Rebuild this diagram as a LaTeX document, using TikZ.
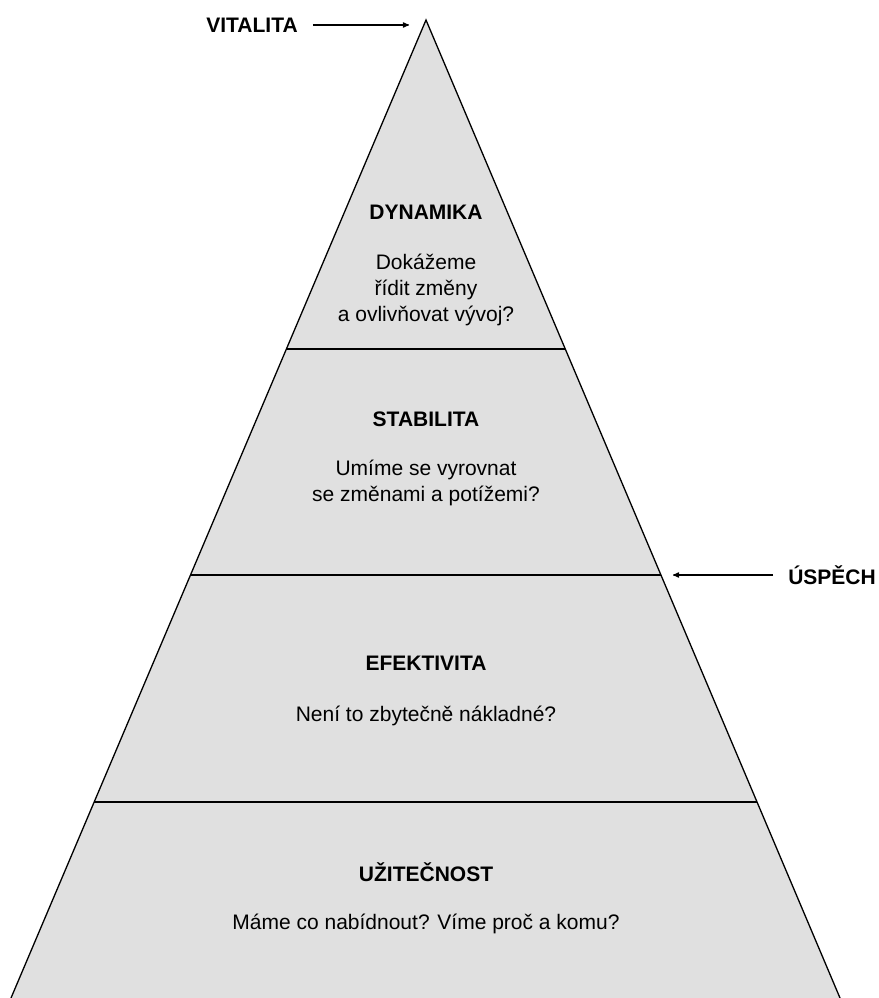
\documentclass[tikz,border=0pt]{standalone}
\usepackage{fontspec}
\setmainfont{Liberation Sans}
\usepackage{tikz}
\usetikzlibrary{arrows,shapes,calc}
\tikzstyle{layer}=[fill=black!12,draw=none]
\tikzstyle{title}=[font=\fontsize{21}{26}\selectfont\bfseries]
\tikzstyle{question}=[font=\fontsize{21}{26}\selectfont,align=center]
\tikzstyle{edge} = [draw,line width=1.2pt,->,>=stealth',shorten <=15pt]
\tikzstyle{border} = [draw,line width=1.3pt]

\begin{document}
\begin{tikzpicture}[x=1pt, y=-1pt]

    \useasboundingbox (0,0) rectangle (878,998);

    \coordinate (apex) at (426,20);
    \coordinate (bl) at (11,998);
    \coordinate (br) at (840,998);

    \fill[layer] (bl) -- (apex) -- (br) -- cycle;
    \path[border] (bl) -- (apex) -- (br);

    % layer boundaries
    \foreach \t in {0.3364, 0.5675, 0.7996}
        \path[border] ($(apex)!\t!(bl)$) -- ($(apex)!\t!(br)$);

    \foreach \y/\name/\text in {212/dyn/DYNAMIKA, 419/stab/STABILITA, 663/efek/EFEKTIVITA, 872/uzit/UŽITEČNOST}
        \node[title] (\name) at (426,\y) {\text};

    \node[question] (dynq) at (426,290) {Dokážeme\\řídit změny\\a ovlivňovat vývoj?};
    \node[question] (stabq) at (426,483) {Umíme se vyrovnat\\se změnami a potížemi?};
    \node[question] (efekq) at (426,716) {Není to zbytečně nákladné?};
    \node[question] (uzitq) at (426,924) {Máme co nabídnout? Víme proč a komu?};

    % side labels
    \node[title,inner sep=0pt] (vital) at (252,25) {VITALITA};
    \node[title,inner sep=0pt] (uspech) at (832,575) {ÚSPĚCH};
    \coordinate (vitalend) at (409,25);
    \coordinate (uspechend) at (673,575);

    \path[edge] (vital.east) -- (vitalend);
    \path[edge] (uspech.west) -- (uspechend);

\end{tikzpicture}
\end{document}
